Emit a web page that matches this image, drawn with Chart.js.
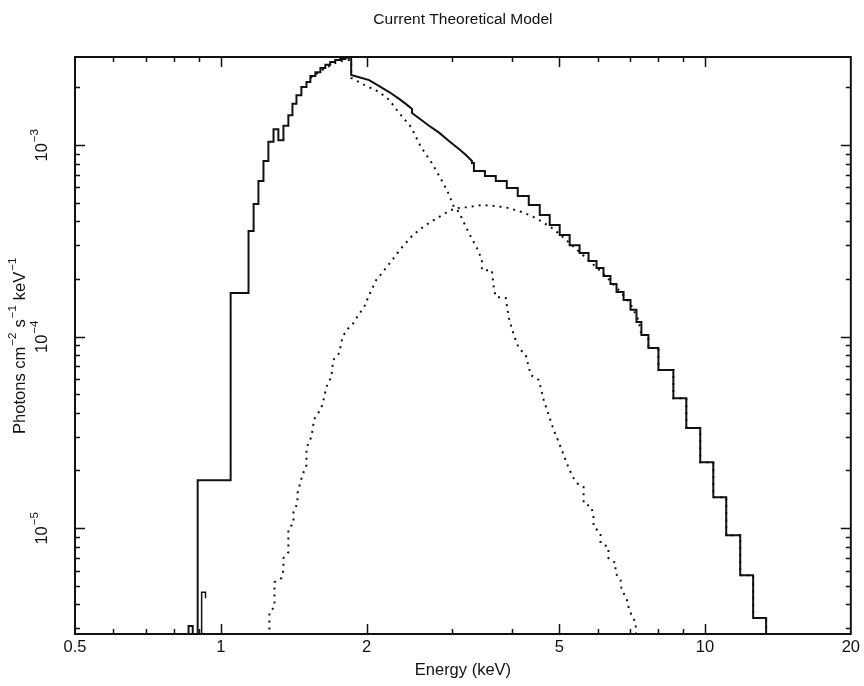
<!DOCTYPE html>
<html><head><meta charset="utf-8">
<script src="https://cdn.jsdelivr.net/npm/chart.js@4.4.1/dist/chart.umd.min.js"></script>
<style>html,body{margin:0;padding:0;background:#fff;}#wrap{width:864px;height:686px;}</style>
</head><body><div id="wrap"><canvas id="c" width="864" height="686"></canvas></div>
<script>
// ---------- texts ----------
const chartTitle = 'Current Theoretical Model';
const xAxisTitle = 'Energy (keV)';
// y-axis title as [text, isSuperscript] pieces
const yAxisTitleParts = [['Photons cm', false], ['−2', true], [' s', false], ['−1', true], [' keV', false], ['−1', true]];

// ---------- axes ----------
const xRange = [0.5, 20];
const yRange = [2.8e-6, 2.88e-3];
const xTickLabels = [0.5, 1, 2, 5, 10, 20];
const xMinorTicks = [0.6, 0.7, 0.8, 0.9, 3, 4, 6, 7, 8, 9];
const yTickLabels = [1e-5, 1e-4, 1e-3];
const yTickExponents = ['−5', '−4', '−3'];
const yMinorMultipliers = [2, 3, 4, 5, 6, 7, 8, 9];
const belowAxis = 1e-7;

// ---------- total model (solid) ----------
const totalLowEdges = [0.858, 0.875, 0.896, 1.048, 1.141, 1.169, 1.196, 1.225, 1.254, 1.285, 1.315, 1.347, 1.379, 1.406, 1.433, 1.467, 1.503, 1.531, 1.568, 1.606, 1.644, 1.683, 1.723, 1.765, 1.807, 1.859];
const totalLowValues = [3.08e-6, 1e-7, 1.78e-5, 1.69e-4, 3.56e-4, 4.92e-4, 6.49e-4, 8.25e-4, 1.04e-3, 1.21e-3, 1.06e-3, 1.26e-3, 1.43e-3, 1.64e-3, 1.82e-3, 2.01e-3, 2.13e-3, 2.29e-3, 2.40e-3, 2.52e-3, 2.62e-3, 2.71e-3, 2.78e-3, 2.81e-3, 2.85e-3];
const totalMidEnergies = [1.859, 1.931, 2.025, 2.124, 2.227, 2.335, 2.425, 2.483, 2.483, 2.567, 2.692, 2.823, 2.959, 3.103, 3.208, 3.301];
const totalMidValues = [2.32e-3, 2.26e-3, 2.18e-3, 2.03e-3, 1.89e-3, 1.74e-3, 1.62e-3, 1.54e-3, 1.47e-3, 1.38e-3, 1.26e-3, 1.16e-3, 1.05e-3, 9.53e-4, 8.87e-4, 8.25e-4];
const totalHighEdges = [3.301, 3.332, 3.511, 3.697, 3.896, 4.104, 4.325, 4.557, 4.778, 5.010, 5.253, 5.507, 5.747, 5.969, 6.170, 6.378, 6.565, 6.788, 7.015, 7.217, 7.389, 7.639, 8.012, 8.602, 9.148, 9.774, 10.40, 11.06, 11.82, 12.57, 13.37];
const totalHighValues = [8.05e-4, 7.31e-4, 6.89e-4, 6.49e-4, 5.96e-4, 5.42e-4, 4.86e-4, 4.31e-4, 3.82e-4, 3.39e-4, 3.00e-4, 2.73e-4, 2.48e-4, 2.28e-4, 2.07e-4, 1.88e-4, 1.71e-4, 1.55e-4, 1.38e-4, 1.19e-4, 1.02e-4, 8.71e-5, 6.68e-5, 4.77e-5, 3.33e-5, 2.21e-5, 1.45e-5, 9.19e-6, 5.68e-6, 3.39e-6];
const edgeEnergies = [0.913, 0.913, 0.930, 0.930];
const edgeValues = [1e-7, 4.63e-6, 4.63e-6, 4.3e-6];

// ---------- soft component (dotted) ----------
const softEnergies = [1.531, 1.644, 1.723, 1.807, 1.859, 1.859, 1.978, 2.124, 2.227, 2.335, 2.472, 2.591, 2.718, 2.796, 2.932, 3.030, 3.103, 3.208, 3.285, 3.380, 3.461, 3.461, 3.628, 3.662, 3.697, 3.877, 3.933, 4.027, 4.124, 4.263, 4.366, 4.535, 4.644, 4.756, 4.869, 4.986, 5.105, 5.229, 5.355, 5.482, 5.613, 5.613, 5.829, 5.885, 5.885, 6.084, 6.084, 6.318, 6.318, 6.533, 6.533, 6.691, 6.723, 6.884, 6.949, 7.049, 7.184, 7.217];
const softValues = [2.24e-3, 2.52e-3, 2.68e-3, 2.78e-3, 2.78e-3, 2.24e-3, 2.06e-3, 1.89e-3, 1.72e-3, 1.47e-3, 1.24e-3, 9.76e-4, 8.15e-4, 7.23e-4, 5.82e-4, 4.75e-4, 4.47e-4, 3.73e-4, 3.31e-4, 2.90e-4, 2.51e-4, 2.22e-4, 2.22e-4, 1.81e-4, 1.61e-4, 1.59e-4, 1.25e-4, 1.02e-4, 8.71e-5, 8.01e-5, 6.30e-5, 5.93e-5, 4.66e-5, 3.89e-5, 3.25e-5, 2.81e-5, 2.41e-5, 2.06e-5, 1.82e-5, 1.68e-5, 1.64e-5, 1.35e-5, 1.29e-5, 1.14e-5, 1.02e-5, 9.42e-6, 8.35e-6, 7.96e-6, 6.97e-6, 6.57e-6, 5.82e-6, 5.35e-6, 4.75e-6, 4.31e-6, 3.87e-6, 3.51e-6, 3.23e-6, 2.6e-6];

// ---------- hard component (dotted) ----------
const hardEnergies = [1.260, 1.260, 1.291, 1.291, 1.334, 1.347, 1.347, 1.379, 1.379, 1.413, 1.413, 1.440, 1.440, 1.474, 1.503, 1.503, 1.538, 1.560, 1.590, 1.621, 1.652, 1.691, 1.707, 1.757, 1.782, 1.816, 1.868, 1.922, 1.978, 2.025, 2.094, 2.154, 2.259, 2.369, 2.472, 2.567, 2.692, 2.823, 2.988, 3.103, 3.254, 3.461, 3.697, 3.933, 4.183, 4.387, 4.579, 4.801, 5.033, 5.278, 5.535, 5.800, 6.084, 6.378, 6.691, 7.015, 7.285, 7.389, 7.639, 7.639, 8.012, 8.012, 8.602, 8.602, 9.148, 9.148, 9.774, 9.774, 10.40, 10.40, 11.06, 11.06, 11.82, 11.82, 12.57, 12.57, 13.37, 13.37];
const hardValues = [2.5e-6, 3.64e-6, 3.87e-6, 5.22e-6, 5.48e-6, 6.04e-6, 6.97e-6, 7.49e-6, 9.88e-6, 1.06e-5, 1.21e-5, 1.35e-5, 1.52e-5, 1.89e-5, 2.13e-5, 2.62e-5, 2.99e-5, 3.71e-5, 3.99e-5, 4.39e-5, 5.45e-5, 6.14e-5, 7.54e-5, 8.20e-5, 9.82e-5, 1.08e-4, 1.15e-4, 1.29e-4, 1.43e-4, 1.65e-4, 1.97e-4, 2.15e-4, 2.51e-4, 2.93e-4, 3.31e-4, 3.60e-4, 3.92e-4, 4.21e-4, 4.58e-4, 4.69e-4, 4.75e-4, 4.86e-4, 4.80e-4, 4.69e-4, 4.47e-4, 4.26e-4, 4.01e-4, 3.73e-4, 3.39e-4, 3.04e-4, 2.73e-4, 2.45e-4, 2.20e-4, 1.95e-4, 1.71e-4, 1.48e-4, 1.22e-4, 1.02e-4, 1.02e-4, 8.71e-5, 8.71e-5, 6.68e-5, 6.68e-5, 4.77e-5, 4.77e-5, 3.33e-5, 3.33e-5, 2.21e-5, 2.21e-5, 1.45e-5, 1.45e-5, 9.19e-6, 9.19e-6, 5.68e-6, 5.68e-6, 3.39e-6, 3.39e-6, 1e-7];

// ---------- build point tables ----------
function binsToPoints(edges, values) {
  const pts = [];
  for (let i = 0; i < values.length; i++) {
    pts.push({x: edges[i], y: values[i]});
    pts.push({x: edges[i + 1], y: values[i]});
  }
  return pts;
}
function pairs(es, vs) { return es.map((e, i) => ({x: e, y: vs[i]})); }

const totalPoints = [{x: totalLowEdges[0], y: belowAxis}]
  .concat(binsToPoints(totalLowEdges, totalLowValues))
  .concat(pairs(totalMidEnergies, totalMidValues))
  .concat(binsToPoints(totalHighEdges, totalHighValues))
  .concat([{x: totalHighEdges[totalHighEdges.length - 1], y: belowAxis}]);

const INK = '#111';
const FONT = '"Liberation Sans", Arial, sans-serif';
const BASE = 16.5, SUP = 11.5;

const decor = {
  id: 'decor',
  afterDatasetsDraw(chart) {
    const {ctx, chartArea: a, scales: {x, y}} = chart;
    ctx.save();
    ctx.strokeStyle = INK;
    ctx.lineWidth = 2;
    ctx.strokeRect(a.left, a.top, a.right - a.left, a.bottom - a.top);
    ctx.lineWidth = 1.5;
    ctx.beginPath();
    const xt = (v, len) => {
      const px = Math.round(x.getPixelForValue(v)) + 0.5;
      ctx.moveTo(px, a.bottom); ctx.lineTo(px, a.bottom - len);
      ctx.moveTo(px, a.top); ctx.lineTo(px, a.top + len);
    };
    const yt = (v, len) => {
      const py = Math.round(y.getPixelForValue(v)) + 0.5;
      ctx.moveTo(a.left, py); ctx.lineTo(a.left + len, py);
      ctx.moveTo(a.right, py); ctx.lineTo(a.right - len, py);
    };
    xTickLabels.forEach(v => { if (v > xRange[0] && v < xRange[1]) xt(v, 10); });
    xMinorTicks.forEach(v => xt(v, 5));
    yTickLabels.forEach(v => yt(v, 10));
    yTickLabels.concat([yTickLabels[0] / 10]).forEach(d => {
      yMinorMultipliers.forEach(m => {
        const v = d * m;
        if (v > yRange[0] && v < yRange[1]) yt(v, 5);
      });
    });
    ctx.stroke();

    ctx.fillStyle = INK;
    ctx.textBaseline = 'middle';
    ctx.textAlign = 'left';
    // rotated rich text helper
    const drawRotated = (parts, cx, cy) => {
      ctx.save();
      ctx.translate(cx, cy);
      ctx.rotate(-Math.PI / 2);
      const widths = parts.map(([t, sup]) => {
        ctx.font = (sup ? SUP : BASE) + 'px ' + FONT;
        return ctx.measureText(t).width + (sup ? 1.5 : 0);
      });
      const total = widths.reduce((s, w) => s + w, 0);
      let pos = -total / 2;
      parts.forEach(([t, sup], i) => {
        ctx.font = (sup ? SUP : BASE) + 'px ' + FONT;
        ctx.fillText(t, pos + (sup ? 1 : 0), sup ? -6 : 1);
        pos += widths[i];
      });
      ctx.restore();
    };
    yTickLabels.forEach((v, i) => {
      drawRotated([['10', false], [yTickExponents[i], true]], 41, y.getPixelForValue(v));
    });
    drawRotated(yAxisTitleParts, 19, (a.top + a.bottom) / 2);

    ctx.font = '15.5px ' + FONT;
    ctx.textAlign = 'center';
    ctx.fillText(chartTitle, (a.left + a.right) / 2, 20);
    ctx.restore();
  }
};

new Chart(document.getElementById('c'), {
  type: 'line',
  data: {
    datasets: [
      {label: 'Total', data: totalPoints, borderColor: INK, borderWidth: 2, pointRadius: 0, fill: false, tension: 0},
      {label: 'Edge', data: pairs(edgeEnergies, edgeValues), borderColor: INK, borderWidth: 1.5, pointRadius: 0, fill: false},
      {label: 'Soft', data: pairs(softEnergies, softValues), borderColor: INK, borderWidth: 2, borderDash: [2, 5], pointRadius: 0, fill: false},
      {label: 'Hard', data: pairs(hardEnergies, hardValues), borderColor: INK, borderWidth: 2, borderDash: [2, 5], pointRadius: 0, fill: false}
    ]
  },
  options: {
    responsive: false,
    animation: false,
    devicePixelRatio: 1,
    layout: {padding: {top: 57, right: 12, left: 0, bottom: 0}},
    plugins: {legend: {display: false}, tooltip: {enabled: false}, title: {display: false}},
    scales: {
      x: {
        type: 'logarithmic', min: xRange[0], max: xRange[1],
        grid: {display: false, drawTicks: false}, border: {display: false},
        afterBuildTicks: s => { s.ticks = xTickLabels.map(v => ({value: v, major: false})); },
        afterFit: s => { s.height = 52; },
        ticks: {autoSkip: false, maxRotation: 0, minRotation: 0, padding: 4, color: INK,
                font: {size: BASE, family: FONT}, callback: v => String(v)},
        title: {display: true, text: xAxisTitle, color: INK, font: {size: BASE, family: FONT}, padding: {top: 0, bottom: 6}}
      },
      y: {
        type: 'logarithmic', min: yRange[0], max: yRange[1],
        grid: {display: false}, border: {display: false},
        ticks: {display: false},
        afterFit: s => { s.width = 75; },
        title: {display: false}
      }
    }
  },
  plugins: [decor]
});
</script></body></html>
